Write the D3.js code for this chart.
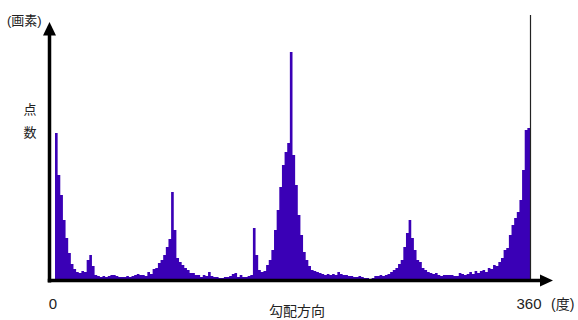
<!DOCTYPE html>
<html>
<head>
<meta charset="utf-8">
<script src="https://cdn.jsdelivr.net/npm/d3@7"></script>
<style>
  html, body { margin: 0; padding: 0; background: #fff; }
  svg { display: block; }
  text { font-family: "Liberation Sans", "Noto Sans CJK JP", sans-serif; fill: #222; }
</style>
</head>
<body>
<svg id="chart" width="578" height="320"></svg>
<script>
// Histogram of gradient directions, 2-degree bins from 0 to 360
const binWidth = 2;
const counts = [
  147,105,85,60,42,27,16,11,8,7,
  9,8,20,25,14,5,4,3,4,3,
  4,5,5,4,3,3,3,4,3,4,
  5,6,5,5,4,8,6,11,12,17,
  20,25,33,41,88,50,22,18,15,12,
  10,7,7,5,5,3,5,4,8,4,
  3,3,2,2,3,3,4,6,7,3,
  5,3,3,4,5,52,25,10,8,9,
  15,20,30,50,70,93,115,128,137,228,
  125,95,65,45,28,20,14,10,9,8,
  7,6,5,6,5,6,5,8,6,5,
  5,4,4,3,3,4,3,2,2,1,
  2,4,4,5,4,5,6,8,10,12,
  16,20,33,47,60,42,30,20,18,12,
  10,8,7,6,7,5,4,5,5,5,
  5,4,4,7,6,5,6,8,6,9,
  7,9,10,8,12,11,15,14,18,22,
  30,32,45,55,62,68,80,110,150,152
];
const xDomain = [0, 360];
const yDomain = [0, 265];
const xTickValues = [0, 360];
const xTickLabels = ["0", "360"];
const xUnitLabel = "(度)";
const xTitle = "勾配方向";
const yUnitLabel = "(画素)";
const yTitleChars = ["点", "数"];

const svg = d3.select("#chart");
const x = d3.scaleLinear().domain(xDomain).range([55, 530]);
const y = d3.scaleLinear().domain(yDomain).range([280, 15]);

const barColor = "#3a00b6";

// bars as one stepped area (no seams between adjacent bins)
const pts = counts.map((c, i) => [i * binWidth, c]);
pts.push([counts.length * binWidth, counts[counts.length - 1]]);
const area = d3.area()
  .curve(d3.curveStepAfter)
  .x(d => x(d[0]))
  .y0(y(0))
  .y1(d => y(d[1]));
svg.append("path")
  .datum(pts)
  .attr("d", area)
  .attr("fill", barColor);

// thin marker line at 360
svg.append("line")
  .attr("x1", x(360) + 0.5).attr("x2", x(360) + 0.5)
  .attr("y1", y(265)).attr("y2", y(0))
  .attr("stroke", "#222").attr("stroke-width", 1.2);

// y axis with arrow
const axX = 49.5;
svg.append("line")
  .attr("x1", axX).attr("x2", axX)
  .attr("y1", 282.5).attr("y2", 34)
  .attr("stroke", "#000").attr("stroke-width", 3.5);
svg.append("path")
  .attr("d", `M${axX},22 L${axX - 6.5},35.5 L${axX + 6.5},35.5 Z`)
  .attr("fill", "#000");

// x axis with arrow
const axY = 280.5;
svg.append("line")
  .attr("x1", 47.75).attr("x2", 541)
  .attr("y1", axY).attr("y2", axY)
  .attr("stroke", "#000").attr("stroke-width", 3.5);
svg.append("path")
  .attr("d", `M553,${axY} L540,${axY - 6} L540,${axY + 6} Z`)
  .attr("fill", "#000");

// x tick labels
svg.append("g").selectAll("text").data(xTickValues).join("text")
  .attr("x", (d, i) => i === 0 ? x(d) - 2 : x(d) - 1)
  .attr("y", 309)
  .attr("text-anchor", "middle")
  .attr("font-size", 15)
  .text((d, i) => xTickLabels[i]);

svg.append("text")
  .attr("x", 551).attr("y", 309)
  .attr("font-size", 14)
  .text(xUnitLabel);

svg.append("text")
  .attr("x", 297).attr("y", 316)
  .attr("text-anchor", "middle")
  .attr("font-size", 14)
  .text(xTitle);

svg.append("text")
  .attr("x", 7).attr("y", 25)
  .attr("font-size", 13)
  .text(yUnitLabel);

svg.append("g").selectAll("text").data(yTitleChars).join("text")
  .attr("x", 30)
  .attr("y", (d, i) => 114 + i * 23)
  .attr("text-anchor", "middle")
  .attr("font-size", 13)
  .text(d => d);
</script>
</body>
</html>
